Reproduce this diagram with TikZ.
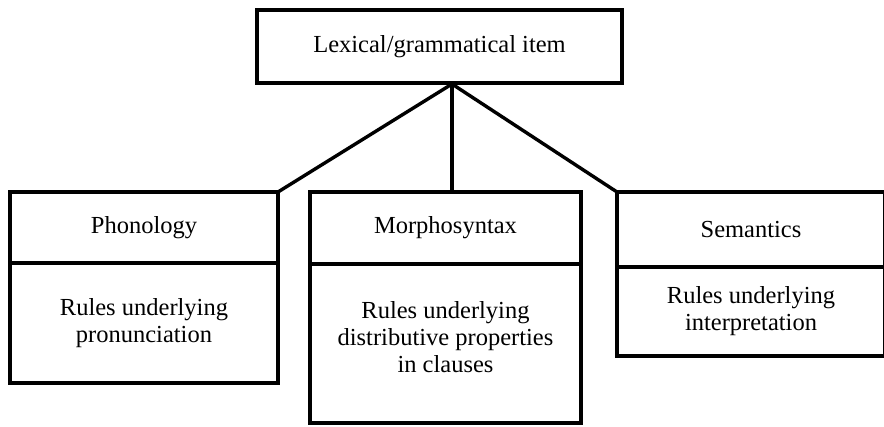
\documentclass[tikz,border=0pt]{standalone}
\usepackage{fontspec}
\setmainfont{Liberation Serif}

\begin{document}
\begin{tikzpicture}[x=1pt,y=-1pt,
  font=\fontsize{24.5}{27}\selectfont,
  headbox/.style={draw,line width=4.5pt,align=center,inner sep=0pt,outer sep=0pt},
  bodybox/.style={headbox,anchor=north},
  link/.style={line width=3.4pt}]
  \useasboundingbox (0,0) rectangle (884,427);

  % The item at the top
  \node[headbox,minimum width=365pt,minimum height=73pt] (lex) at (439.5,46.5) {Lexical/grammatical item};
  \coordinate (apex) at (452,84);

  % The three components, a heading over a body each
  \node[headbox,minimum width=268pt,minimum height=71pt] (phon) at (144,227.5) {Phonology};
  \node[bodybox,minimum width=268pt,minimum height=120pt] (phonrules) at (phon.south) {Rules underlying\\pronunciation};

  \node[headbox,minimum width=271pt,minimum height=72pt] (morph) at (445.5,228) {Morphosyntax};
  \node[bodybox,minimum width=271pt,minimum height=159pt,text depth=12pt] (morphrules) at (morph.south) {Rules underlying\\distributive properties\\in clauses};

  \node[headbox,minimum width=268pt,minimum height=75pt] (sem) at (751,229.5) {Semantics};
  \node[bodybox,minimum width=268pt,minimum height=89pt] (semrules) at (sem.south) {Rules underlying\\interpretation};

  % Branches
  \draw[link] (apex) -- (phon.north east);
  \draw[link] (apex) -- (apex |- morph.north);
  \draw[link] (apex) -- (sem.north west);
\end{tikzpicture}
\end{document}
